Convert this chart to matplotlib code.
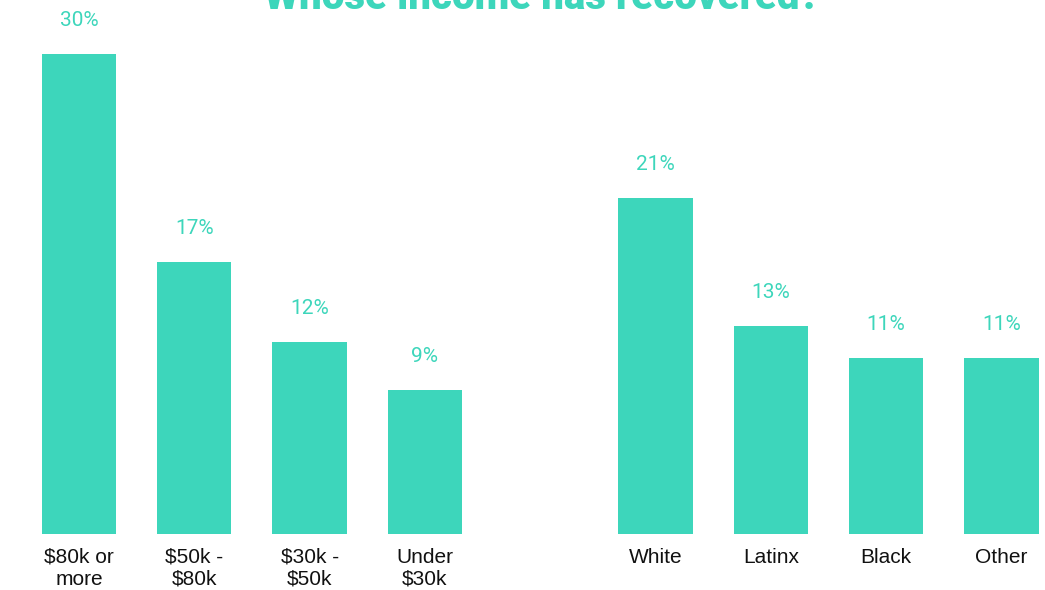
import matplotlib
matplotlib.use("Agg")
import matplotlib.pyplot as plt

# Share of respondents whose income has recovered
income_groups = ["$80k or\nmore", "$50k -\n$80k", "$30k -\n$50k", "Under\n$30k"]
income_values = [30, 17, 12, 9]
race_groups = ["White", "Latinx", "Black", "Other"]
race_values = [21, 13, 11, 11]

TEAL = "#3dd6bb"

fig = plt.figure(figsize=(10.45, 5.9), dpi=100)
ax = fig.add_axes([0, 56 / 590, 1, 534 / 590])

labels = income_groups + race_groups
values = income_values + race_values
positions = [0, 1, 2, 3, 5, 6, 7, 8]

bars = ax.bar(positions, values, width=0.645, color=TEAL, linewidth=0)

for x, v in zip(positions, values):
    ax.annotate(f"{v}%", (x, v), xytext=(0, 24), textcoords="offset points",
                ha="center", va="center", color=TEAL, fontsize=15,
                family="Roboto")

ax.set_xlim(-79 / 115.3, (1045 - 79) / 115.3)
ax.set_ylim(0, 534 / 16)
ax.set_xticks(positions)
ax.set_xticklabels(labels, fontsize=15, family="Liberation Sans",
                   color="#111111", linespacing=1.2)
ax.tick_params(axis="x", length=0, pad=10)
ax.set_yticks([])
for s in ax.spines.values():
    s.set_visible(False)

fig.text(0.519, 1 - 9 / 590, "Whose income has recovered?", ha="center",
         va="baseline", color=TEAL, fontsize=29, fontweight=900,
         family="Roboto")

fig.savefig("out.png", dpi=100)
